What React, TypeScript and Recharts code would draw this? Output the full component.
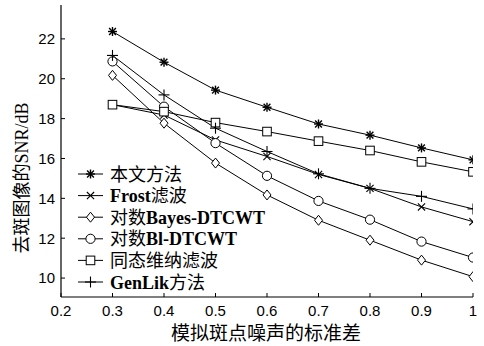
import React from 'react';
import { LineChart, Line, XAxis, YAxis } from 'recharts';

const sigma = [0.3, 0.4, 0.5, 0.6, 0.7, 0.8, 0.9, 1.0];
const ours = [22.37, 20.83, 19.43, 18.57, 17.73, 17.17, 16.53, 15.93];
const frost = [18.7, 18.18, 16.93, 16.1, 15.2, 14.5, 13.57, 12.83];
const bayes = [20.17, 17.77, 15.77, 14.17, 12.9, 11.9, 10.9, 10.07];
const bl = [20.87, 18.6, 16.77, 15.13, 13.87, 12.93, 11.83, 11.03];
const wiener = [18.7, 18.35, 17.8, 17.35, 16.87, 16.4, 15.83, 15.33];
const genlik = [21.17, 19.19, 17.52, 16.35, 15.23, 14.5, 14.1, 13.47];

const xTicks = [0.2, 0.3, 0.4, 0.5, 0.6, 0.7, 0.8, 0.9, 1.0];
const yTicks = [10, 12, 14, 16, 18, 20, 22];

const seriesNames = ['本文方法', 'Frost滤波', '对数Bayes-DTCWT', '对数Bl-DTCWT', '同态维纳滤波', 'GenLik方法'];
const seriesKeys = ['ours', 'frost', 'bayes', 'bl', 'wiener', 'genlik'];
const seriesMarkers = ['star', 'x', 'diamond', 'circle', 'square', 'plus'];
const seriesValues = [ours, frost, bayes, bl, wiener, genlik];

const data = sigma.map((s, i) => {
  const row: any = { s };
  seriesKeys.forEach((k, j) => { row[k] = seriesValues[j][i]; });
  return row;
});

const FONT_NUM = "'Liberation Sans', Arial, sans-serif";
const FONT_CJK = "'Noto Sans CJK SC', sans-serif";
const FONT_LAT = "'Liberation Serif', 'Times New Roman', serif";

function Marker({ type, cx, cy }: { type: string; cx: number; cy: number }) {
  const c = '#000';
  switch (type) {
    case 'star': {
      const r = 4.5, d = 3.4;
      return (
        <g stroke={c} strokeWidth={1.4}>
          <line x1={cx - r} y1={cy} x2={cx + r} y2={cy} />
          <line x1={cx} y1={cy - r} x2={cx} y2={cy + r} />
          <line x1={cx - d} y1={cy - d} x2={cx + d} y2={cy + d} />
          <line x1={cx - d} y1={cy + d} x2={cx + d} y2={cy - d} />
        </g>
      );
    }
    case 'x': {
      const d = 3.6;
      return (
        <g stroke={c} strokeWidth={1.1}>
          <line x1={cx - d} y1={cy - d} x2={cx + d} y2={cy + d} />
          <line x1={cx - d} y1={cy + d} x2={cx + d} y2={cy - d} />
        </g>
      );
    }
    case 'plus': {
      const r = 5.5;
      return (
        <g stroke={c} strokeWidth={1.1}>
          <line x1={cx - r} y1={cy} x2={cx + r} y2={cy} />
          <line x1={cx} y1={cy - r} x2={cx} y2={cy + r} />
        </g>
      );
    }
    case 'diamond':
      return (
        <polygon
          points={`${cx},${cy - 5} ${cx + 4},${cy} ${cx},${cy + 5} ${cx - 4},${cy}`}
          fill="#fff" stroke={c} strokeWidth={1}
        />
      );
    case 'circle':
      return <circle cx={cx} cy={cy} r={4.6} fill="#fff" stroke={c} strokeWidth={1} />;
    case 'square':
      return <rect x={cx - 4.3} y={cy - 4.3} width={8.6} height={8.6} fill="#fff" stroke={c} strokeWidth={1} />;
    default:
      return null;
  }
}

const makeDot = (type: string) => (props: any) => {
  const { cx, cy, index } = props;
  if (cx == null || cy == null) return <g key={index} />;
  return <Marker key={index} type={type} cx={cx} cy={cy} />;
};

const XTick = (props: any) => {
  const { x, y, payload } = props;
  const v = payload.value;
  const label = v === 1 ? '1' : v.toFixed(1);
  return (
    <g>
      <line x1={x} y1={y} x2={x} y2={y - 4} stroke="#000" strokeWidth={1} />
      <text x={x} y={y + 19} textAnchor="middle" fontSize={15} fontFamily={FONT_NUM} fill="#000">{label}</text>
    </g>
  );
};

const YTick = (props: any) => {
  const { x, y, payload } = props;
  return (
    <g>
      <line x1={x} y1={y} x2={x + 4} y2={y} stroke="#000" strokeWidth={1} />
      <text x={x - 6} y={y + 5.4} textAnchor="end" fontSize={15} fontFamily={FONT_NUM} fill="#000">{payload.value}</text>
    </g>
  );
};

function MixedText({ text, x, y, size, boldLatin }: { text: string; x: number; y: number; size: number; boldLatin?: boolean }) {
  const parts = text.match(/[\u4e00-\u9fff]+|[^\u4e00-\u9fff]+/g) || [];
  return (
    <text x={x} y={y} fontSize={size} fill="#000">
      {parts.map((p, i) => {
        const cjk = /[\u4e00-\u9fff]/.test(p);
        return (
          <tspan key={i} fontFamily={cjk ? FONT_CJK : FONT_LAT} fontWeight={cjk ? 400 : boldLatin ? 700 : 400}>
            {p}
          </tspan>
        );
      })}
    </text>
  );
}

function LegendBlock({ x, y }: { x: number; y: number }) {
  const rowH = 21.6;
  return (
    <g>
      {seriesNames.map((name, i) => {
        const cy = y + i * rowH;
        return (
          <g key={name}>
            <line x1={x} y1={cy} x2={x + 25} y2={cy} stroke="#000" strokeWidth={1} />
            <Marker type={seriesMarkers[i]} cx={x + 12.5} cy={cy} />
            <MixedText text={name} x={x + 32} y={cy + 6.5} size={18} boldLatin />
          </g>
        );
      })}
    </g>
  );
}

export default function App() {
  return (
    <div style={{ position: 'absolute', left: 0, top: 0, width: 484, height: 346, background: '#fff' }}>
      <LineChart width={484} height={346} data={data} margin={{ top: 5, right: 11, left: 0, bottom: 0 }}>
        <XAxis
          dataKey="s" type="number" domain={[0.2, 1]} ticks={xTicks} height={49}
          tickSize={0} tickMargin={0} tick={<XTick />} interval={0}
          axisLine={{ stroke: '#000', strokeWidth: 1.2 }}
          allowDataOverflow
        />
        <XAxis
          xAxisId="top" orientation="top" dataKey="s" type="number" domain={[0.2, 1]}
          height={0} tick={false} tickLine={false} axisLine={{ stroke: '#000', strokeWidth: 1.2 }}
        />
        <YAxis
          type="number" domain={[9.05, 23.7]} ticks={yTicks} width={61}
          tickSize={0} tickMargin={0} tick={<YTick />} interval={0}
          axisLine={{ stroke: '#000', strokeWidth: 1.2 }}
          allowDataOverflow
        />
        <YAxis
          yAxisId="right" orientation="right" type="number" domain={[9.05, 23.7]}
          width={0} tick={false} tickLine={false} axisLine={{ stroke: '#000', strokeWidth: 1.2 }}
        />
        {seriesKeys.map((k, i) => (
          <Line
            key={k}
            dataKey={k}
            name={seriesNames[i]}
            stroke="#000"
            strokeWidth={1}
            isAnimationActive={false}
            dot={makeDot(seriesMarkers[i])}
            activeDot={false}
          />
        ))}
      </LineChart>
      <svg width={484} height={346} style={{ position: 'absolute', left: 0, top: 0, pointerEvents: 'none' }}>
        <LegendBlock x={78} y={174} />
        <g transform="translate(28,178) rotate(-90)">
          <text x={0} y={0} textAnchor="middle" fontSize={18} fill="#000">
            <tspan fontFamily={FONT_CJK}>去斑图像的</tspan>
            <tspan fontFamily={FONT_LAT}>SNR/dB</tspan>
          </text>
        </g>
        <text x={266} y={340} textAnchor="middle" fontSize={19} fontFamily={FONT_CJK} fill="#000">模拟斑点噪声的标准差</text>
      </svg>
    </div>
  );
}
